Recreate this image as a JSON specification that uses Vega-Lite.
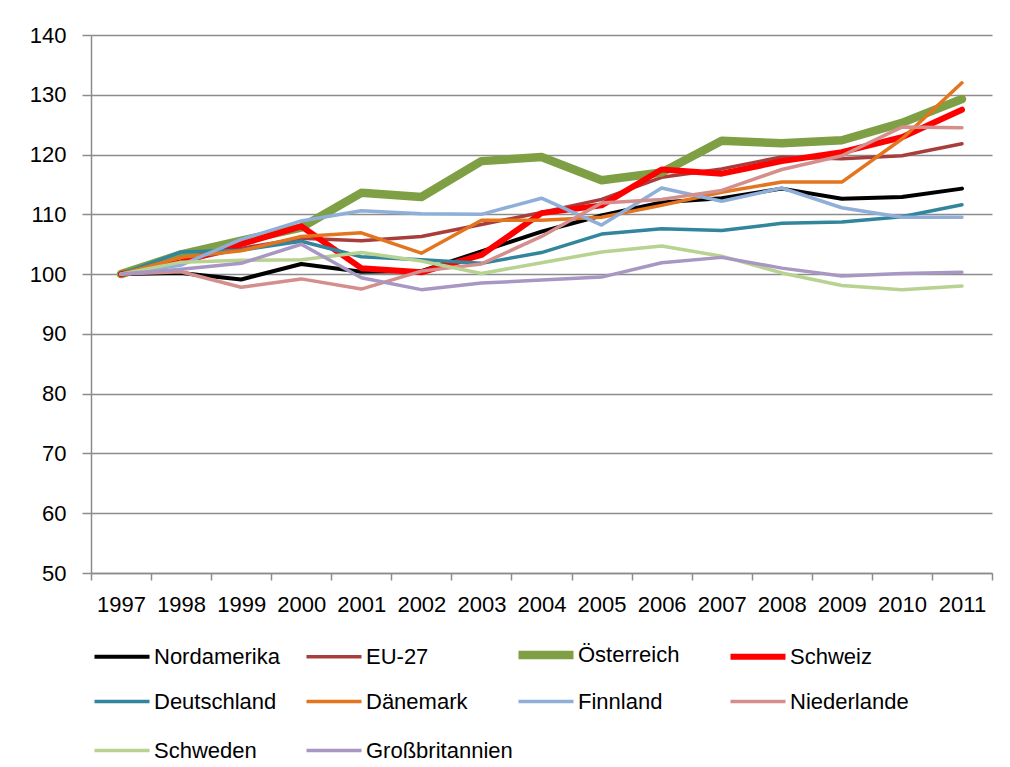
{
  "$schema": "https://vega.github.io/schema/vega-lite/v6.json",
  "width": 901,
  "height": 538,
  "autosize": {"type": "none"},
  "padding": {"left": 91, "top": 35, "right": 18, "bottom": 194},
  "background": "white",
  "config": {
    "font": "Liberation Sans",
    "view": {"stroke": null},
    "axis": {
      "labelFont": "Liberation Sans",
      "labelFontSize": 22,
      "labelColor": "#000000",
      "domainColor": "#8C8C8C",
      "domainWidth": 1.5,
      "tickColor": "#8C8C8C",
      "tickWidth": 1.5,
      "gridColor": "#8C8C8C",
      "gridWidth": 1.5,
      "title": null
    },
    "legend": {
      "labelFont": "Liberation Sans",
      "labelFontSize": 22,
      "labelColor": "#000000"
    }
  },
  "data": {
    "values": [
      {"year": "1997", "series": "Nordamerika", "value": 100},
      {"year": "1998", "series": "Nordamerika", "value": 100.2},
      {"year": "1999", "series": "Nordamerika", "value": 99.1},
      {"year": "2000", "series": "Nordamerika", "value": 101.7},
      {"year": "2001", "series": "Nordamerika", "value": 100.4},
      {"year": "2002", "series": "Nordamerika", "value": 100.5},
      {"year": "2003", "series": "Nordamerika", "value": 103.8},
      {"year": "2004", "series": "Nordamerika", "value": 107.1},
      {"year": "2005", "series": "Nordamerika", "value": 109.8},
      {"year": "2006", "series": "Nordamerika", "value": 112.0},
      {"year": "2007", "series": "Nordamerika", "value": 112.7},
      {"year": "2008", "series": "Nordamerika", "value": 114.3},
      {"year": "2009", "series": "Nordamerika", "value": 112.6},
      {"year": "2010", "series": "Nordamerika", "value": 112.9},
      {"year": "2011", "series": "Nordamerika", "value": 114.3},
      {"year": "1997", "series": "EU-27", "value": 100},
      {"year": "1998", "series": "EU-27", "value": 102.0},
      {"year": "1999", "series": "EU-27", "value": 104.3},
      {"year": "2000", "series": "EU-27", "value": 106.0},
      {"year": "2001", "series": "EU-27", "value": 105.6},
      {"year": "2002", "series": "EU-27", "value": 106.3},
      {"year": "2003", "series": "EU-27", "value": 108.3},
      {"year": "2004", "series": "EU-27", "value": 110.3},
      {"year": "2005", "series": "EU-27", "value": 112.5},
      {"year": "2006", "series": "EU-27", "value": 116.2},
      {"year": "2007", "series": "EU-27", "value": 117.6},
      {"year": "2008", "series": "EU-27", "value": 119.6},
      {"year": "2009", "series": "EU-27", "value": 119.3},
      {"year": "2010", "series": "EU-27", "value": 119.8},
      {"year": "2011", "series": "EU-27", "value": 121.8},
      {"year": "1997", "series": "Österreich", "value": 100},
      {"year": "1998", "series": "Österreich", "value": 103.3},
      {"year": "1999", "series": "Österreich", "value": 105.6},
      {"year": "2000", "series": "Österreich", "value": 107.8},
      {"year": "2001", "series": "Österreich", "value": 113.6},
      {"year": "2002", "series": "Österreich", "value": 112.9},
      {"year": "2003", "series": "Österreich", "value": 118.9},
      {"year": "2004", "series": "Österreich", "value": 119.6},
      {"year": "2005", "series": "Österreich", "value": 115.7},
      {"year": "2006", "series": "Österreich", "value": 117.0},
      {"year": "2007", "series": "Österreich", "value": 122.3},
      {"year": "2008", "series": "Österreich", "value": 121.9},
      {"year": "2009", "series": "Österreich", "value": 122.4},
      {"year": "2010", "series": "Österreich", "value": 125.3},
      {"year": "2011", "series": "Österreich", "value": 129.3},
      {"year": "1997", "series": "Schweiz", "value": 100},
      {"year": "1998", "series": "Schweiz", "value": 102.0},
      {"year": "1999", "series": "Schweiz", "value": 105.0},
      {"year": "2000", "series": "Schweiz", "value": 108.0},
      {"year": "2001", "series": "Schweiz", "value": 101.0},
      {"year": "2002", "series": "Schweiz", "value": 100.3},
      {"year": "2003", "series": "Schweiz", "value": 103.2},
      {"year": "2004", "series": "Schweiz", "value": 110.2},
      {"year": "2005", "series": "Schweiz", "value": 111.5},
      {"year": "2006", "series": "Schweiz", "value": 117.5},
      {"year": "2007", "series": "Schweiz", "value": 116.8},
      {"year": "2008", "series": "Schweiz", "value": 118.9},
      {"year": "2009", "series": "Schweiz", "value": 120.4},
      {"year": "2010", "series": "Schweiz", "value": 122.9},
      {"year": "2011", "series": "Schweiz", "value": 127.5},
      {"year": "1997", "series": "Deutschland", "value": 100},
      {"year": "1998", "series": "Deutschland", "value": 103.7},
      {"year": "1999", "series": "Deutschland", "value": 104.0},
      {"year": "2000", "series": "Deutschland", "value": 105.5},
      {"year": "2001", "series": "Deutschland", "value": 102.9},
      {"year": "2002", "series": "Deutschland", "value": 102.4},
      {"year": "2003", "series": "Deutschland", "value": 101.8},
      {"year": "2004", "series": "Deutschland", "value": 103.6},
      {"year": "2005", "series": "Deutschland", "value": 106.7},
      {"year": "2006", "series": "Deutschland", "value": 107.6},
      {"year": "2007", "series": "Deutschland", "value": 107.3},
      {"year": "2008", "series": "Deutschland", "value": 108.5},
      {"year": "2009", "series": "Deutschland", "value": 108.7},
      {"year": "2010", "series": "Deutschland", "value": 109.6},
      {"year": "2011", "series": "Deutschland", "value": 111.6},
      {"year": "1997", "series": "Dänemark", "value": 100},
      {"year": "1998", "series": "Dänemark", "value": 102.8},
      {"year": "1999", "series": "Dänemark", "value": 103.9},
      {"year": "2000", "series": "Dänemark", "value": 106.3},
      {"year": "2001", "series": "Dänemark", "value": 106.9},
      {"year": "2002", "series": "Dänemark", "value": 103.5},
      {"year": "2003", "series": "Dänemark", "value": 109.0},
      {"year": "2004", "series": "Dänemark", "value": 109.0},
      {"year": "2005", "series": "Dänemark", "value": 109.5},
      {"year": "2006", "series": "Dänemark", "value": 111.5},
      {"year": "2007", "series": "Dänemark", "value": 113.7},
      {"year": "2008", "series": "Dänemark", "value": 115.4},
      {"year": "2009", "series": "Dänemark", "value": 115.4},
      {"year": "2010", "series": "Dänemark", "value": 122.6},
      {"year": "2011", "series": "Dänemark", "value": 132.0},
      {"year": "1997", "series": "Finnland", "value": 100},
      {"year": "1998", "series": "Finnland", "value": 101.5},
      {"year": "1999", "series": "Finnland", "value": 105.8},
      {"year": "2000", "series": "Finnland", "value": 108.9},
      {"year": "2001", "series": "Finnland", "value": 110.6},
      {"year": "2002", "series": "Finnland", "value": 110.1},
      {"year": "2003", "series": "Finnland", "value": 110.0},
      {"year": "2004", "series": "Finnland", "value": 112.7},
      {"year": "2005", "series": "Finnland", "value": 108.2},
      {"year": "2006", "series": "Finnland", "value": 114.4},
      {"year": "2007", "series": "Finnland", "value": 112.2},
      {"year": "2008", "series": "Finnland", "value": 114.4},
      {"year": "2009", "series": "Finnland", "value": 111.1},
      {"year": "2010", "series": "Finnland", "value": 109.5},
      {"year": "2011", "series": "Finnland", "value": 109.5},
      {"year": "1997", "series": "Niederlande", "value": 100},
      {"year": "1998", "series": "Niederlande", "value": 100.4},
      {"year": "1999", "series": "Niederlande", "value": 97.8},
      {"year": "2000", "series": "Niederlande", "value": 99.2},
      {"year": "2001", "series": "Niederlande", "value": 97.5},
      {"year": "2002", "series": "Niederlande", "value": 100.5},
      {"year": "2003", "series": "Niederlande", "value": 101.7},
      {"year": "2004", "series": "Niederlande", "value": 106.3},
      {"year": "2005", "series": "Niederlande", "value": 111.9},
      {"year": "2006", "series": "Niederlande", "value": 112.5},
      {"year": "2007", "series": "Niederlande", "value": 114.0},
      {"year": "2008", "series": "Niederlande", "value": 117.5},
      {"year": "2009", "series": "Niederlande", "value": 119.8},
      {"year": "2010", "series": "Niederlande", "value": 124.6},
      {"year": "2011", "series": "Niederlande", "value": 124.5},
      {"year": "1997", "series": "Schweden", "value": 100},
      {"year": "1998", "series": "Schweden", "value": 102.0},
      {"year": "1999", "series": "Schweden", "value": 102.3},
      {"year": "2000", "series": "Schweden", "value": 102.4},
      {"year": "2001", "series": "Schweden", "value": 103.6},
      {"year": "2002", "series": "Schweden", "value": 102.2},
      {"year": "2003", "series": "Schweden", "value": 100.1},
      {"year": "2004", "series": "Schweden", "value": 101.9},
      {"year": "2005", "series": "Schweden", "value": 103.7},
      {"year": "2006", "series": "Schweden", "value": 104.7},
      {"year": "2007", "series": "Schweden", "value": 103.0},
      {"year": "2008", "series": "Schweden", "value": 100.2},
      {"year": "2009", "series": "Schweden", "value": 98.1},
      {"year": "2010", "series": "Schweden", "value": 97.4},
      {"year": "2011", "series": "Schweden", "value": 98.0},
      {"year": "1997", "series": "Großbritannien", "value": 100},
      {"year": "1998", "series": "Großbritannien", "value": 100.8},
      {"year": "1999", "series": "Großbritannien", "value": 101.8},
      {"year": "2000", "series": "Großbritannien", "value": 105.0},
      {"year": "2001", "series": "Großbritannien", "value": 99.4},
      {"year": "2002", "series": "Großbritannien", "value": 97.4},
      {"year": "2003", "series": "Großbritannien", "value": 98.5},
      {"year": "2004", "series": "Großbritannien", "value": 99.0},
      {"year": "2005", "series": "Großbritannien", "value": 99.5},
      {"year": "2006", "series": "Großbritannien", "value": 101.9},
      {"year": "2007", "series": "Großbritannien", "value": 102.8},
      {"year": "2008", "series": "Großbritannien", "value": 101.0},
      {"year": "2009", "series": "Großbritannien", "value": 99.7},
      {"year": "2010", "series": "Großbritannien", "value": 100.1},
      {"year": "2011", "series": "Großbritannien", "value": 100.3}
    ]
  },
  "mark": {"type": "line", "strokeJoin": "round", "strokeCap": "round"},
  "encoding": {
    "x": {
      "field": "year",
      "type": "ordinal",
      "bandPosition": 0.5,
      "scale": {"type": "band", "paddingInner": 0, "paddingOuter": 0},
      "axis": {
        "labelAngle": 0,
        "tickBand": "extent",
        "tickSize": 7,
        "labelPadding": 14,
        "grid": false
      }
    },
    "y": {
      "field": "value",
      "type": "quantitative",
      "scale": {"domain": [50, 140], "nice": false, "zero": false},
      "axis": {
        "values": [50, 60, 70, 80, 90, 100, 110, 120, 130, 140],
        "tickSize": 9,
        "labelPadding": 16,
        "grid": true
      }
    },
    "color": {
      "field": "series",
      "type": "nominal",
      "scale": {
        "domain": ["Nordamerika", "EU-27", "Österreich", "Schweiz", "Deutschland", "Dänemark", "Finnland", "Niederlande", "Schweden", "Großbritannien"],
        "range": ["#000000", "#A83E3C", "#7E9F44", "#FF0000", "#31859C", "#E4751F", "#8FAED8", "#D48E8C", "#B7D291", "#A897C2"]
      },
      "legend": {
        "orient": "none",
        "legendX": -1,
        "legendY": 588,
        "columns": 4,
        "direction": "horizontal",
        "gridAlign": "all",
        "title": null,
        "padding": 0,
        "symbolType": "stroke",
        "symbolSize": 3025,
        "labelOffset": 0,
        "rowPadding": -3,
        "columnPadding": -12,
        "labelLimit": 400
      }
    },
    "strokeWidth": {
      "field": "series",
      "type": "ordinal",
      "scale": {
        "type": "ordinal",
        "domain": ["Nordamerika", "EU-27", "Österreich", "Schweiz", "Deutschland", "Dänemark", "Finnland", "Niederlande", "Schweden", "Großbritannien"],
        "range": [4, 3.5, 8.5, 6, 3.5, 3.5, 3.5, 3.5, 3.5, 3.5]
      },
      "legend": {
        "orient": "none",
        "legendX": -1,
        "legendY": 588,
        "columns": 4,
        "direction": "horizontal",
        "gridAlign": "all",
        "title": null,
        "padding": 0,
        "symbolType": "stroke",
        "symbolSize": 3025,
        "labelOffset": 0,
        "rowPadding": -3,
        "columnPadding": -12,
        "labelLimit": 400
      }
    }
  }
}
